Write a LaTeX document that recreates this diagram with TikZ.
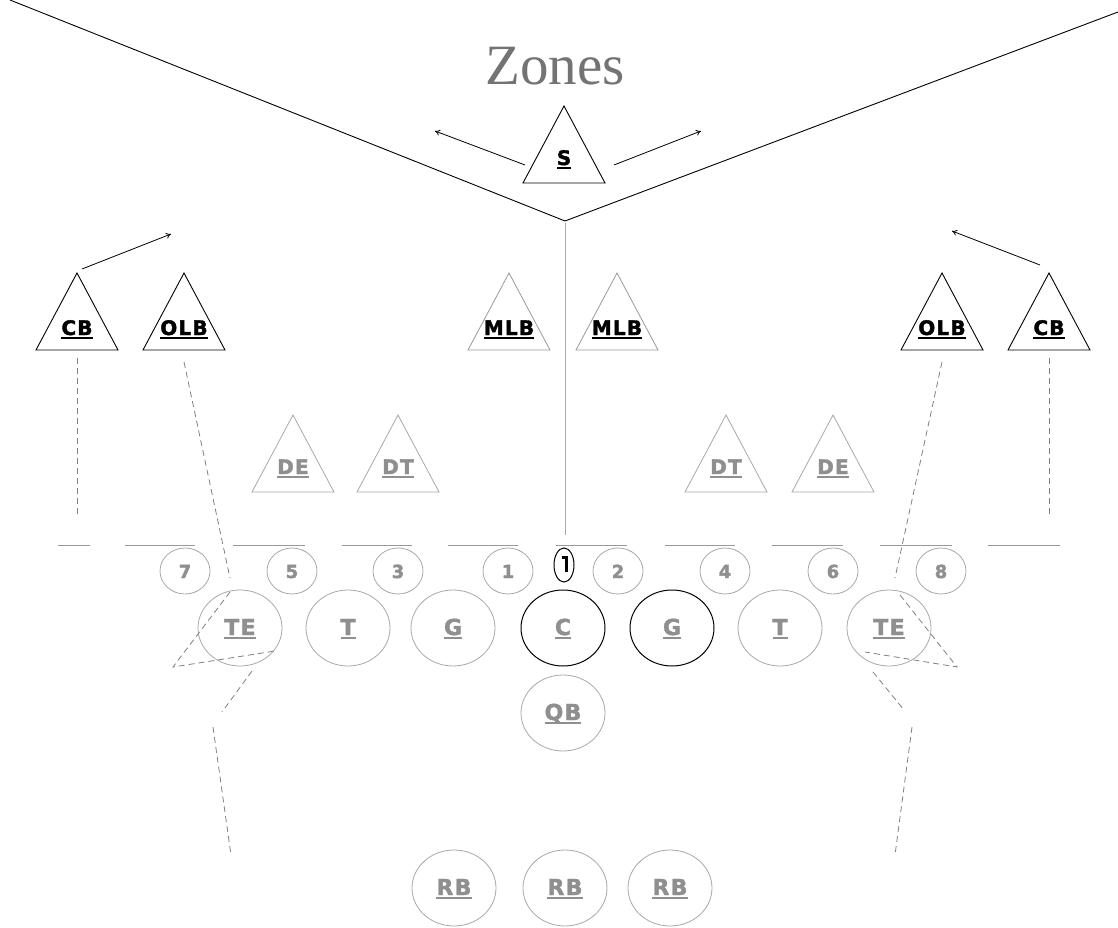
\documentclass[tikz,border=0pt]{standalone}
\usepackage{fontspec}
\setmainfont{Liberation Serif}
\newfontfamily\labfont{DejaVu Sans}[LetterSpace=6, BoldFeatures={FakeBold=1.8}]
\usetikzlibrary{arrows.meta}

\definecolor{lineg}{gray}{0.66}
\definecolor{losg}{gray}{0.6}
\definecolor{labg}{gray}{0.56}
\definecolor{routeg}{gray}{0.5}
\definecolor{zoneg}{gray}{0.45}

% underlined player label
\newcommand\ul[1]{\setbox0\hbox{#1}\rlap{\rule[-4pt]{\wd0}{1.6pt}}\box0}
% triangle (defender) with apex at (#2,#3)
\newcommand\tri[3]{\draw[#1] (#2,#3) -- ++(-41,77) -- ++(82,0) -- cycle;}

\begin{document}
\begin{tikzpicture}[x=1pt,y=-1pt,
  tblack/.style={draw=black, line width=0.9pt},
  tgray/.style={draw=lineg, line width=0.8pt},
  tmid/.style={draw=gray!80, line width=0.8pt},
  blab/.style={font=\labfont\bfseries\fontsize{20}{20}\selectfont, text=black, inner sep=0pt, anchor=base},
  glab/.style={font=\labfont\bfseries\fontsize{20}{20}\selectfont, text=labg, inner sep=0pt, anchor=base},
  olab/.style={font=\labfont\bfseries\fontsize{22}{22}\selectfont, text=labg, inner sep=0pt, anchor=base},
  nlab/.style={font=\labfont\bfseries\fontsize{18}{18}\selectfont, text=labg, inner sep=0pt, anchor=base},
  gap/.style={draw=lineg, line width=0.8pt},
  lineman/.style={draw=lineg, line width=0.8pt},
  keyman/.style={draw=black, line width=1pt},
  route/.style={draw=routeg, line width=0.8pt, dash pattern=on 6pt off 4pt},
  mv/.style={draw=black, line width=0.8pt, -{To[length=5pt,width=6pt]}},
  los/.style={draw=losg, line width=1pt}
]
\useasboundingbox (0,0) rectangle (1118,928);

% zone boundaries
\coordinate (vtx) at (565,221);
\coordinate (zl) at (10,0);
\coordinate (zr) at (1118,12);
\coordinate (zb) at (565,535);
\draw[black, line width=0.9pt] (zl) -- (vtx) -- (zr);
\draw[lineg, line width=0.9pt] (vtx) ++(0,2) -- (zb);

\node[font=\fontsize{57}{57}\selectfont, text=zoneg, inner sep=0pt, anchor=base] (zones) at (555,85) {Zones};

% safety
\tri{tblack}{564}{106}
\node[blab] (s) at (564,165) {\ul{S}};
\coordinate (sl0) at (525,165); \coordinate (sl1) at (435,131);
\coordinate (sr0) at (614,165); \coordinate (sr1) at (701,131);
\draw[mv] (sl0) -- (sl1);
\draw[mv] (sr0) -- (sr1);

% linebackers and corners
\tri{tblack}{77}{273}
\node[blab] (cbl) at (77,335) {\ul{CB}};
\tri{tblack}{184}{273}
\node[blab] (olbl) at (184,335) {\ul{OLB}};
\tri{tmid}{509}{273}
\node[blab] (mlbl) at (509,335) {\ul{MLB}};
\tri{tmid}{617}{273}
\node[blab] (mlbr) at (617,335) {\ul{MLB}};
\tri{tblack}{942}{273}
\node[blab] (olbr) at (942,335) {\ul{OLB}};
\tri{tblack}{1049}{273}
\node[blab] (cbr) at (1049,335) {\ul{CB}};

\coordinate (cl0) at (82,269); \coordinate (cl1) at (171,234);
\coordinate (cr0) at (1040,265); \coordinate (cr1) at (952,231);
\draw[mv] (cl0) -- (cl1);
\draw[mv] (cr0) -- (cr1);

% defensive line
\tri{tgray}{293}{415}
\node[glab] (del) at (293,474) {\ul{DE}};
\tri{tgray}{398}{415}
\node[glab] (dtl) at (398,474) {\ul{DT}};
\tri{tgray}{726}{415}
\node[glab] (dtr) at (726,474) {\ul{DT}};
\tri{tgray}{833}{415}
\node[glab] (der) at (833,474) {\ul{DE}};

% line of scrimmage
\foreach \a/\b in {58/90,125/195,233/305,342/412,448/518,556/627,665/735,772/843,880/952,988/1060}
  \draw[los] (\a,545) -- (\b,545);

% gaps
\foreach \x/\n in {185/7,292/5,398/3,508/1,618/2,725/4,833/6,941/8}{
  \draw[gap] (\x,571) ellipse [x radius=25, y radius=23];
  \node[nlab] (gap\n) at (\x,578) {\n};
}

% ball
\draw[black, line width=1pt] (564,565) ellipse [x radius=10, y radius=17];
\draw[black, line width=3pt] (562,557) -- (566,557) -- (566,572);

% offensive line
\foreach \x/\t/\s/\k in {240/TE/lineman/tel,348/T/lineman/tl,453/G/lineman/gl,563/C/keyman/c,672/G/keyman/gr,780/T/lineman/tr,889/TE/lineman/ter}{
  \draw[\s] (\x,628) ellipse [x radius=42, y radius=38];
  \node[olab] (\k) at (\x,635) {\ul{\t}};
}

% backs
\draw[lineman] (563,713) ellipse [x radius=42, y radius=38];
\node[olab] (qb) at (563,720) {\ul{QB}};
\foreach \x/\k in {454/rb1,565/rb2,670/rb3}{
  \draw[lineman] (\x,888) ellipse [x radius=42, y radius=38];
  \node[olab] (\k) at (\x,895) {\ul{RB}};
}

% coverage routes
\draw[route] (77,358) -- (77,515);
\draw[route] (1049,358) -- (1049,515);

\draw[route] (184,362) -- (230,578);
\draw[route] (230,592) -- (173,667) -- (275,651);
\draw[route] (252,671) -- (222,712);
\draw[route] (213,727) -- (231,855);

\draw[route] (942,362) -- (895,578);
\draw[route] (900,595) -- (957,667) -- (865,652);
\draw[route] (873,672) -- (904,710);
\draw[route] (912,727) -- (895,855);
\end{tikzpicture}
\end{document}
